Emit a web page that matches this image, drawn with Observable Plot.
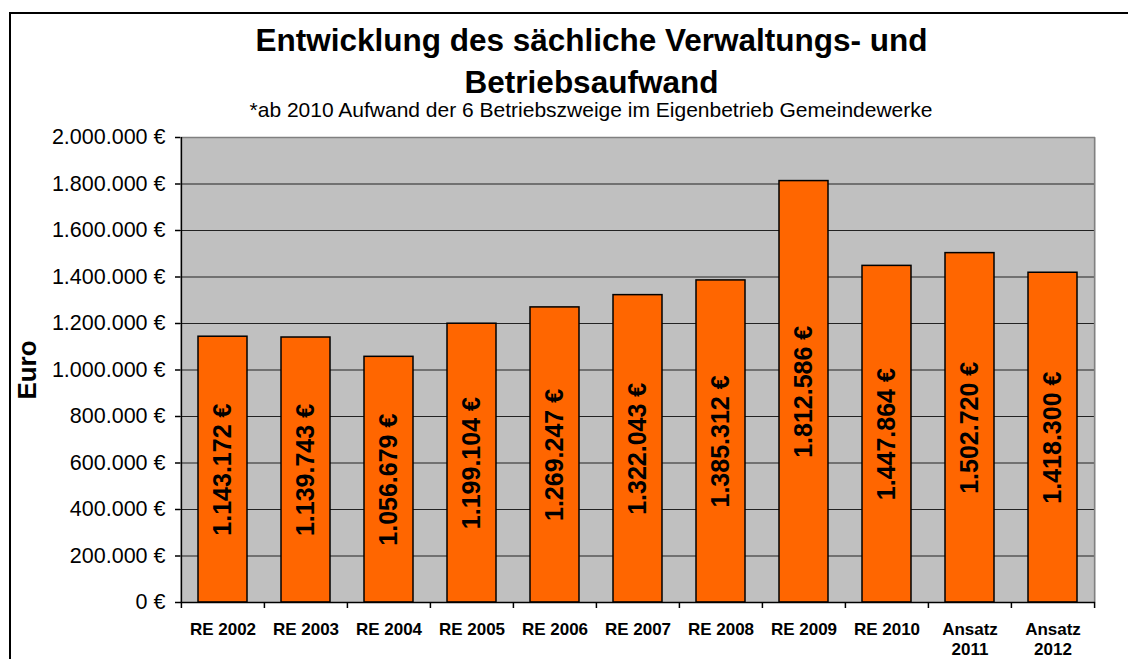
<!DOCTYPE html>
<html>
<head>
<meta charset="utf-8">
<script src="https://cdn.jsdelivr.net/npm/d3@7"></script>
<script src="https://cdn.jsdelivr.net/npm/@observablehq/plot@0.6"></script>
<style>
  html, body { margin: 0; padding: 0; background: #fff; }
  #wrap { position: relative; width: 1128px; height: 659px; overflow: hidden; font-family: "Liberation Sans", Arial, sans-serif; color: #000; }
  #frame { position: absolute; left: 9px; top: 12px; width: 1200px; height: 700px; border-left: 2px solid #000; border-top: 2px solid #000; }
  .t { position: absolute; white-space: nowrap; text-align: center; line-height: 1; }
  #title1 { left: 0; width: 1183px; top: 25px; font-size: 31.5px; font-weight: bold; }
  #title2 { left: 0; width: 1183px; top: 67px; font-size: 31.5px; font-weight: bold; }
  #sub { left: 0; width: 1182px; top: 99px; font-size: 21px; }
  #ylab { left: 27px; top: 370px; font-size: 26px; font-weight: bold; transform: translate(-50%, -50%) rotate(-90deg); }
  #chart { position: absolute; left: 0; top: 0; }
</style>
</head>
<body>
<div id="wrap">
  <div id="frame"></div>
  <div id="chart"></div>
  <div class="t" id="title1">Entwicklung des sächliche Verwaltungs- und</div>
  <div class="t" id="title2">Betriebsaufwand</div>
  <div class="t" id="sub">*ab 2010 Aufwand der 6 Betriebszweige im Eigenbetrieb Gemeindewerke</div>
  <div class="t" id="ylab">Euro</div>
</div>
<script>
const categories = ["RE 2002", "RE 2003", "RE 2004", "RE 2005", "RE 2006", "RE 2007", "RE 2008", "RE 2009", "RE 2010", "Ansatz 2011", "Ansatz 2012"];
const values = [1143172, 1139743, 1056679, 1199104, 1269247, 1322043, 1385312, 1812586, 1447864, 1502720, 1418300];
const yTicks = [0, 200000, 400000, 600000, 800000, 1000000, 1200000, 1400000, 1600000, 1800000, 2000000];

const data = categories.map((c, i) => ({cat: c, value: values[i]}));
const fmt = v => d3.format(",")(v).replace(/,/g, ".") + " €";

const W = 1128, H = 659;
const mL = 180, mR = 33, mT = 137, mB = 57;
const plotW = W - mL - mR, plotH = H - mT - mB;
const pIn = 0.41, pOut = 0.205;
const step = plotW / (categories.length - pIn + 2 * pOut);

const chart = Plot.plot({
  width: W,
  height: H,
  marginLeft: mL, marginRight: mR, marginTop: mT, marginBottom: mB,
  style: {fontFamily: "Liberation Sans, Arial, sans-serif", background: "transparent", color: "#000"},
  x: {domain: categories, paddingInner: pIn, paddingOuter: pOut, align: 0.5},
  y: {domain: [0, 2000000]},
  marks: [
    Plot.frame({fill: "#C0C0C0", stroke: null}),
    Plot.ruleY(yTicks.slice(1, -1), {stroke: "#222", strokeWidth: 1}),
    Plot.ruleY([yTicks[yTicks.length - 1]], {stroke: "#808080", strokeWidth: 1.5}),
    Plot.ruleX([categories[categories.length - 1]], {x: d => d, dx: step / 2, stroke: "#808080", strokeWidth: 1.5}),
    Plot.barY(data, {x: "cat", y: "value", fill: "#FF6600", stroke: "#000", strokeWidth: 1.5}),
    Plot.text(data, {x: "cat", y: d => d.value / 2, text: d => fmt(d.value), rotate: -90, fontSize: 25, fontWeight: "bold", fill: "#000"}),
    Plot.ruleY([0], {stroke: "#000", strokeWidth: 1.5}),
    Plot.ruleX([categories[0]], {x: d => d, dx: -step / 2, stroke: "#000", strokeWidth: 1.5}),
    Plot.ruleX(categories, {x: d => d, dx: -step / 2, insetTop: plotH, insetBottom: -6, stroke: "#000", strokeWidth: 1.5}),
    Plot.ruleX([categories[categories.length - 1]], {x: d => d, dx: step / 2, insetTop: plotH, insetBottom: -6, stroke: "#000", strokeWidth: 1.5}),
    Plot.axisY({ticks: yTicks, tickSize: 5, tickPadding: 10, fontSize: 21.5, tickFormat: fmt, label: null, strokeWidth: 1.5}),
    Plot.axisX({tickSize: 0, tickPadding: 18, fontSize: 17, fontWeight: "bold", lineHeight: 1.2, label: null, tickFormat: d => d.replace("Ansatz ", "Ansatz\n")})
  ]
});
document.getElementById("chart").appendChild(chart);
</script>
</body>
</html>
